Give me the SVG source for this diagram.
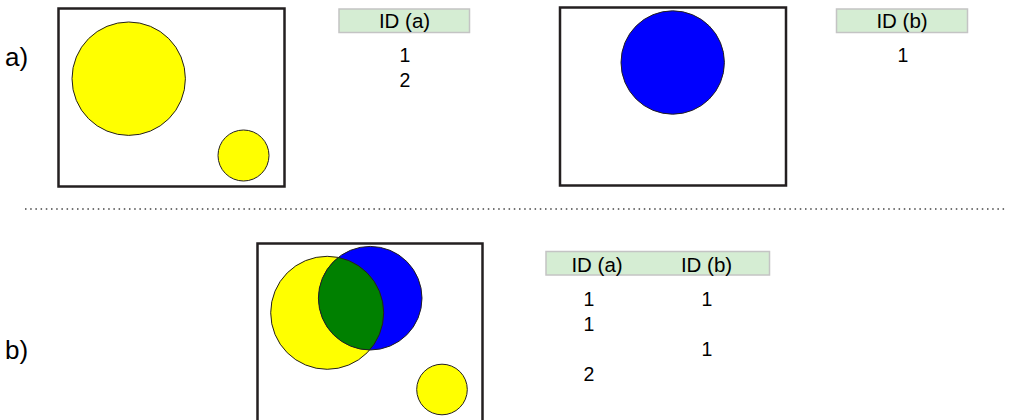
<svg xmlns="http://www.w3.org/2000/svg" width="1009" height="420" viewBox="0 0 1009 420">
<style>
text{font-family:"Liberation Sans",Arial,sans-serif;fill:#000}
.lbl{font-size:26px}
.hd{font-size:20.5px;text-anchor:middle}
.num{font-size:19.5px;text-anchor:middle}
.box{fill:#fff;stroke:#231f20;stroke-width:2.5}
.hbox{fill:#d5edd3;stroke:#c4c4c4;stroke-width:1.5}
.circ{stroke:#231f20;stroke-width:1}
.y{fill:#ffff00}
.b{fill:#0000ff}
</style>
<defs>
<clipPath id="clipY"><circle cx="327.2" cy="312.8" r="56.5"/></clipPath>
</defs>
<rect width="1009" height="420" fill="#fff"/>
<text class="lbl" x="5" y="66">a)</text>
<text class="lbl" x="5" y="359">b)</text>
<g id="panel-a">
<rect class="box" x="58.5" y="8.5" width="226" height="178"/>
<circle class="circ y" cx="128.7" cy="78.7" r="56.7"/>
<circle class="circ y" cx="243.5" cy="155.5" r="25.5"/>
</g>
<g id="table-a">
<rect class="hbox" x="339" y="9" width="130.5" height="23.5"/>
<text class="hd" x="404.5" y="27.5">ID (a)</text>
<text class="num" x="405" y="62">1</text>
<text class="num" x="405" y="87">2</text>
</g>
<g id="panel-b">
<rect class="box" x="560" y="7.5" width="226" height="178"/>
<circle class="circ b" cx="672.7" cy="62.5" r="51.7"/>
</g>
<g id="table-b">
<rect class="hbox" x="836.5" y="9" width="131" height="23.5"/>
<text class="hd" x="902" y="27.5">ID (b)</text>
<text class="num" x="903" y="62">1</text>
</g>
<g id="connectors">
<line x1="25" y1="209" x2="1006" y2="209" stroke="#444" stroke-width="1.5" stroke-dasharray="1.5 3.7"/>
</g>
<g id="panel-union">
<rect class="box" x="257.5" y="243.5" width="225" height="180"/>
<circle class="y" cx="327.2" cy="312.8" r="56.5"/>
<circle class="b" cx="370.2" cy="298.2" r="51.8"/>
<circle fill="#008000" cx="370.2" cy="298.2" r="51.8" clip-path="url(#clipY)"/>
<circle class="circ" fill="none" cx="327.2" cy="312.8" r="56.5"/>
<circle class="circ" fill="none" cx="370.2" cy="298.2" r="51.8"/>
<circle class="circ y" cx="442" cy="389.5" r="25.3"/>
</g>
<g id="table-union">
<rect class="hbox" x="546" y="251.5" width="223.5" height="23.5"/>
<text class="hd" x="597" y="271.5">ID (a)</text>
<text class="hd" x="706.5" y="271.5">ID (b)</text>
<text class="num" x="589" y="305.5">1</text>
<text class="num" x="707" y="305.5">1</text>
<text class="num" x="589" y="330.5">1</text>
<text class="num" x="707" y="355.5">1</text>
<text class="num" x="589" y="380.5">2</text>
</g>
</svg>
